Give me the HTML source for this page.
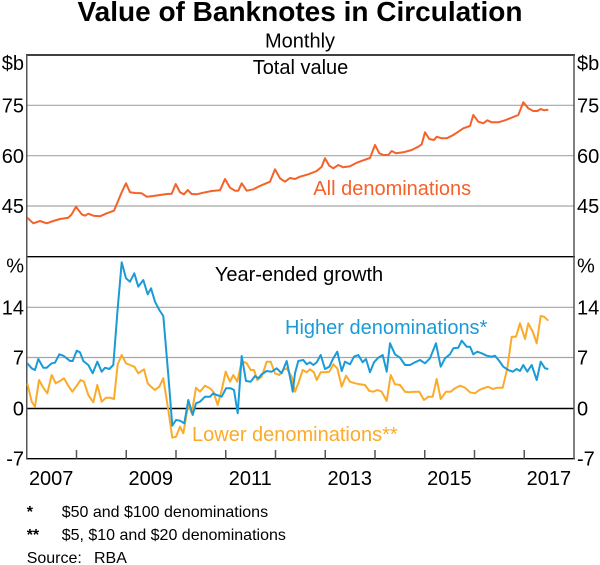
<!DOCTYPE html>
<html><head><meta charset="utf-8"><style>
html,body{margin:0;padding:0;background:#fff;}
svg{display:block;font-family:"Liberation Sans",Arial,sans-serif;}
</style></head><body>
<svg width="600" height="565" viewBox="0 0 600 565" xmlns="http://www.w3.org/2000/svg">
<rect width="600" height="565" fill="#fff"/>
<!-- titles -->
<text x="300" y="21" font-size="28" font-weight="bold" text-anchor="middle" fill="#000">Value of Banknotes in Circulation</text>
<text x="300" y="47.5" font-size="20" text-anchor="middle" fill="#000">Monthly</text>
<text x="300.5" y="74" font-size="20" text-anchor="middle" fill="#000">Total value</text>
<text x="299" y="281" font-size="20" text-anchor="middle" fill="#000">Year-ended growth</text>

<!-- gridlines -->
<g stroke="#a6a6a6" stroke-width="1.2">
<line x1="26.75" y1="105.3" x2="574" y2="105.3"/>
<line x1="26.75" y1="155.7" x2="574" y2="155.7"/>
<line x1="26.75" y1="206" x2="574" y2="206"/>
<line x1="26.75" y1="307.3" x2="574" y2="307.3"/>
<line x1="26.75" y1="357.5" x2="574" y2="357.5"/>
</g>
<line x1="26.75" y1="408.5" x2="574" y2="408.5" stroke="#000" stroke-width="1.4"/>

<!-- frame -->
<line x1="26" y1="55" x2="575" y2="55" stroke="#000" stroke-width="1.4"/>
<line x1="26" y1="256.7" x2="575" y2="256.7" stroke="#000" stroke-width="1.4"/>
<line x1="26" y1="458.7" x2="575" y2="458.7" stroke="#000" stroke-width="1.4"/>
<line x1="26.75" y1="55" x2="26.75" y2="459" stroke="#555" stroke-width="1.5"/>
<line x1="574" y1="55" x2="574" y2="459" stroke="#555" stroke-width="1.5"/>

<!-- ticks -->
<g stroke="#555" stroke-width="1.5">
<line x1="76.5" y1="450" x2="76.5" y2="458.7"/>
<line x1="126.25" y1="450" x2="126.25" y2="458.7"/>
<line x1="176" y1="450" x2="176" y2="458.7"/>
<line x1="225.75" y1="450" x2="225.75" y2="458.7"/>
<line x1="275.5" y1="450" x2="275.5" y2="458.7"/>
<line x1="325.25" y1="450" x2="325.25" y2="458.7"/>
<line x1="375" y1="450" x2="375" y2="458.7"/>
<line x1="424.75" y1="450" x2="424.75" y2="458.7"/>
<line x1="474.5" y1="450" x2="474.5" y2="458.7"/>
<line x1="524.25" y1="450" x2="524.25" y2="458.7"/>
</g>

<!-- axis labels left -->
<g font-size="20" fill="#000" text-anchor="end">
<text x="24" y="70">$b</text>
<text x="24" y="112.5">75</text>
<text x="24" y="163">60</text>
<text x="24" y="213.2">45</text>
<text x="24" y="272.7">%</text>
<text x="24" y="314.5">14</text>
<text x="24" y="364.7">7</text>
<text x="24" y="415.7">0</text>
<text x="24" y="465.5">-7</text>
</g>
<!-- axis labels right -->
<g font-size="20" fill="#000">
<text x="577" y="70">$b</text>
<text x="577" y="112.5">75</text>
<text x="577" y="163">60</text>
<text x="577" y="213.2">45</text>
<text x="577" y="272.7">%</text>
<text x="577" y="314.5">14</text>
<text x="577" y="364.7">7</text>
<text x="577" y="415.7">0</text>
<text x="577" y="465.5">-7</text>
</g>
<!-- x labels -->
<g font-size="20" fill="#000" text-anchor="middle">
<text x="51.2" y="485">2007</text>
<text x="150.8" y="485">2009</text>
<text x="250.3" y="485">2011</text>
<text x="349.8" y="485">2013</text>
<text x="449.4" y="485">2015</text>
<text x="548.9" y="485">2017</text>
</g>

<!-- top series -->
<polyline fill="none" stroke="#F4622A" stroke-width="2" stroke-linejoin="round" points="27.3,217.7 33.3,223.3 40,221 46.7,223.3 53.3,221 60,219 68.3,217.7 71.7,214.3 76,206.7 81.7,214.3 85,215.7 88.3,213.7 93.3,215.7 100,216.3 106.7,213.3 114,210.7 121.7,192.3 126,183.3 130,192.3 135,193 141.7,193.3 146.7,196.7 153.3,196 160,195 166.7,194 171.7,193.7 175.7,184 180,192.3 184,194.3 187.7,190 191.7,194 196.7,194.3 203.3,192.7 211.7,191 220,190.3 225,179 230,187.7 235,190.7 238.3,190.7 241.7,183.3 246.7,190.7 253.3,189.3 258.3,186.7 270,181.7 275,169.3 280,178.3 285,181.7 290,178 295,179 300,176.7 308.3,174.3 316.7,171 321.7,166.7 325,158.3 329.3,165.7 333.3,168.3 338.3,165 343.3,167.3 350,166.3 356.7,162.7 363.3,160.3 370,158 375,145 379.3,153.3 383.3,155 388.3,155 391.7,151 396,153.3 403.3,152.3 411.7,150 418.3,146.7 421.7,144.3 425,132.3 429.3,139 434,140 436.7,136.7 441.7,138.3 446.7,138.3 453.3,135 458.3,131.7 463.3,128.3 470,126 473.3,115 478.3,121.7 483.3,123.3 487.3,120.3 491.7,122.3 498.3,122.3 505,120.3 510,118.3 518.3,115 523.3,102.3 528.3,108.3 533.3,111 537.3,111 540.7,109 544,110.3 548.3,109.7"/>
<text x="313.3" y="195" font-size="20" fill="#F4622A">All denominations</text>

<!-- lower denominations -->
<polyline fill="none" stroke="#FBAA2A" stroke-width="2" stroke-linejoin="round" points="27.3,383.3 31.7,401.7 35,406.7 39,380 43.3,387.7 47.3,393.3 51.7,375 55.7,383.3 60,381 64,378.3 68.3,385.7 72.3,391.7 76,386.7 80.7,380 84,381.7 88.3,395 93.3,402.3 97.3,385 101.7,401.7 106,397.7 110,397.7 114,399 117.7,364.3 121.7,355 126,363.3 130,365 134.3,366.7 138.3,373.3 144,369.3 147.7,383.3 151,386.7 155,390 159.3,386.7 163.3,378.3 168.3,410 172.3,437.7 176,436.7 180,426.7 183.3,433.3 188.3,404.3 191.7,413.3 196,387.7 200,391.7 205,385.7 210,388.3 213.3,391.7 217.7,405 221.7,390 225.7,371.7 230,381.7 233.3,375 237.3,381.7 241.7,361 246.7,363.3 250.7,370 254,370 257.3,380 261.7,376.7 266.7,361.7 270.7,361.7 275,373.3 279.3,375 283.3,370 286.7,368.3 291.7,376.7 295,391.7 298.3,383.3 302.7,370 306.7,372.3 310,369.3 314,372.3 316.7,380 320.7,372.3 325,372.3 329.3,371.7 333.3,364.3 337.3,368.3 341.7,386.7 346,375.7 350,381.7 355,383.3 360,384.3 365,385 369.3,391 373.3,391.7 377.3,390 381.7,391.7 386.7,401 390.7,375 395,384.3 400,385 405,391.7 409.3,392.3 414,391.7 419.3,391.7 424,400 428.3,396.7 432.7,396.7 436.7,379 440.7,399 446,391.7 450.7,391.7 455,388.3 460,385.7 465,387.7 470,392.3 475,393.3 479.3,390 483.3,388.3 488.3,386.7 492.7,389 497.3,387.7 502.7,387.7 507.3,368.3 511.7,336.7 516,336.7 520,323.3 525,339 528.3,323.3 532.7,331.7 536.7,343.3 540.7,316 544,316.7 548.3,320.7"/>

<!-- higher denominations -->
<polyline fill="none" stroke="#1A9BD7" stroke-width="2" stroke-linejoin="round" points="27.3,363.3 31.7,368.3 35,370 38.3,359 43.3,367.7 46.7,367.7 51.7,363.3 55,362.7 59.3,354.3 63.3,355.7 66.7,358.3 70,361 72.7,361 76.7,350.7 80,352.3 83.3,361 88.3,365 92.7,373.3 97.3,361.7 101.7,371.7 105,367.7 109.3,369 113.3,365 117.7,308.3 121.7,262.3 126,278.3 130,281.7 134.3,273.3 138.3,286.7 143.3,280 147.7,294.3 151,288.3 155,301.7 159.3,310 163.3,316 168.3,375 172.3,425.7 176,420 180,420.7 184.3,423.3 188.3,400 192.7,415 196,403.3 200,401.7 205,396.7 210,396.7 213.3,393.3 216.7,395 221.7,396.7 226,388.3 230.7,388.3 234,390 237.7,413.3 241.7,356 246,381 250.7,381.7 255,376 258.3,378.3 261.7,374.3 266.7,371 271.7,371.7 276.7,368.3 281.7,373.3 286.7,361 291.2,383 292.7,391.7 295,373.3 298.3,361 303.3,360 306.7,364.3 310,362.3 313.3,365 316.7,362.3 320.7,355 325,369 329.3,366.7 333.3,358.3 337.3,351.7 341.7,371 345,361.7 350,364.3 354,356.7 358.3,355 362.7,362.3 366,359 370,372.3 374,362.3 378.3,357.7 382.7,355 386.7,371.7 390,343.3 395,354.3 400,357.7 405,365 410,365 415,362.3 420,360 425,363.3 430,358.3 436,343.3 440.7,366.7 445,358.3 450,354.3 453.3,348.3 458.3,347.7 461.7,340.7 466.7,346.7 470,346.7 473.3,354.3 477.3,351.7 481.7,353.3 486.7,355.7 491.7,356.7 495,355.7 499.3,361 503.3,366.7 508.3,370 512.7,371.7 516.7,369 520,371 523.3,365 527.3,371.7 531.7,365 536.7,380 540.7,361.7 545,368.3 548.3,369"/>

<text x="285" y="334" font-size="20" fill="#1A9BD7">Higher denominations*</text>
<text x="192" y="441" font-size="20" fill="#FBAA2A">Lower denominations**</text>

<!-- footnotes -->
<g font-size="16" fill="#000">
<text x="26.7" y="517" font-weight="bold">*</text>
<text x="61.7" y="517">$50 and $100 denominations</text>
<text x="26.7" y="540" font-weight="bold">**</text>
<text x="61.7" y="540">$5, $10 and $20 denominations</text>
<text x="26.7" y="563">Source:</text>
<text x="94" y="563">RBA</text>
</g>
</svg>
</body></html>
